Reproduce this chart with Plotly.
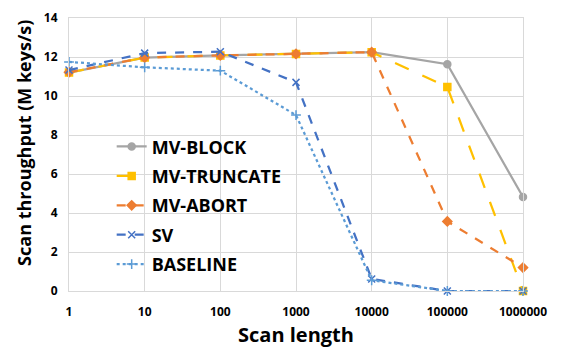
import plotly.graph_objects as go

categories = ["1", "10", "100", "1000", "10000", "100000", "1000000"]
mv_block = [11.2, 11.97, 12.08, 12.16, 12.25, 11.63, 4.82]
mv_truncate = [11.2, 11.97, 12.08, 12.16, 12.25, 10.46, 0.0]
mv_abort = [11.22, 11.97, 12.08, 12.16, 12.25, 3.57, 1.2]
sv = [11.33, 12.2, 12.27, 10.7, 0.62, 0.0, 0.0]
baseline = [11.75, 11.47, 11.3, 9.02, 0.55, 0.0, 0.0]

series = [
    ("MV-BLOCK", mv_block, "#A5A5A5", "solid", "circle", 7),
    ("MV-TRUNCATE", mv_truncate, "#FFC000", "longdash", "square", 7),
    ("MV-ABORT", mv_abort, "#ED7D31", "dash", "diamond", 7),
    ("SV", sv, "#4472C4", "dash", "x-thin-open", 7),
    ("BASELINE", baseline, "#5B9BD5", "dot", "cross-thin-open", 7),
]

fig = go.Figure()
for i, (name, vals, color, dash, sym, size) in enumerate(series):
    fig.add_trace(go.Scatter(
        x=categories, y=vals, name="<b>" + name + "</b>", mode="lines+markers",
        line=dict(color=color, width=2.25, dash=dash),
        marker=dict(symbol=sym, size=size, color=color,
                    line=dict(color=color, width=1.5)),
        legendgroup=str(i), cliponaxis=False,
    ))

font = "'Open Sans', sans-serif"
fig.update_layout(
    width=562, height=354,
    margin=dict(l=69, r=39, t=9, b=63),
    paper_bgcolor="white", plot_bgcolor="white",
    font=dict(family=font, color="black"),
    legend=dict(x=0.094, y=0.596, xanchor="left", yanchor="top",
                font=dict(size=18, family=font, color="black", weight="bold"),
                traceorder="grouped", tracegroupgap=3,
                bgcolor="rgba(0,0,0,0)", itemwidth=30),
    xaxis=dict(
        type="category", range=[0, 6],
        showgrid=True, gridcolor="#D9D9D9", gridwidth=1,
        showline=True, linecolor="#D9D9D9", mirror=True,
        tickfont=dict(size=12, weight="bold"), ticks="", ticklabelstandoff=10,
        title=dict(text="<b>Scan length</b>", font=dict(size=20, weight="bold"), standoff=8),
    ),
    yaxis=dict(
        range=[0, 14], dtick=2,
        showgrid=True, gridcolor="#D9D9D9", gridwidth=1,
        showline=True, linecolor="#D9D9D9", mirror=True, zeroline=False,
        tickfont=dict(size=12, weight="bold"), ticks="", ticklabelstandoff=8,
    ),
    annotations=[dict(
        text="<b>Scan throughput (M keys/s)</b>", textangle=-90,
        xref="paper", yref="paper", x=(24 - 69) / 454, y=(291 - 138) / 282,
        xanchor="center", yanchor="middle", showarrow=False,
        font=dict(size=18, family=font, color="black", weight="bold"),
    )],
)
fig.write_html("out.html")
